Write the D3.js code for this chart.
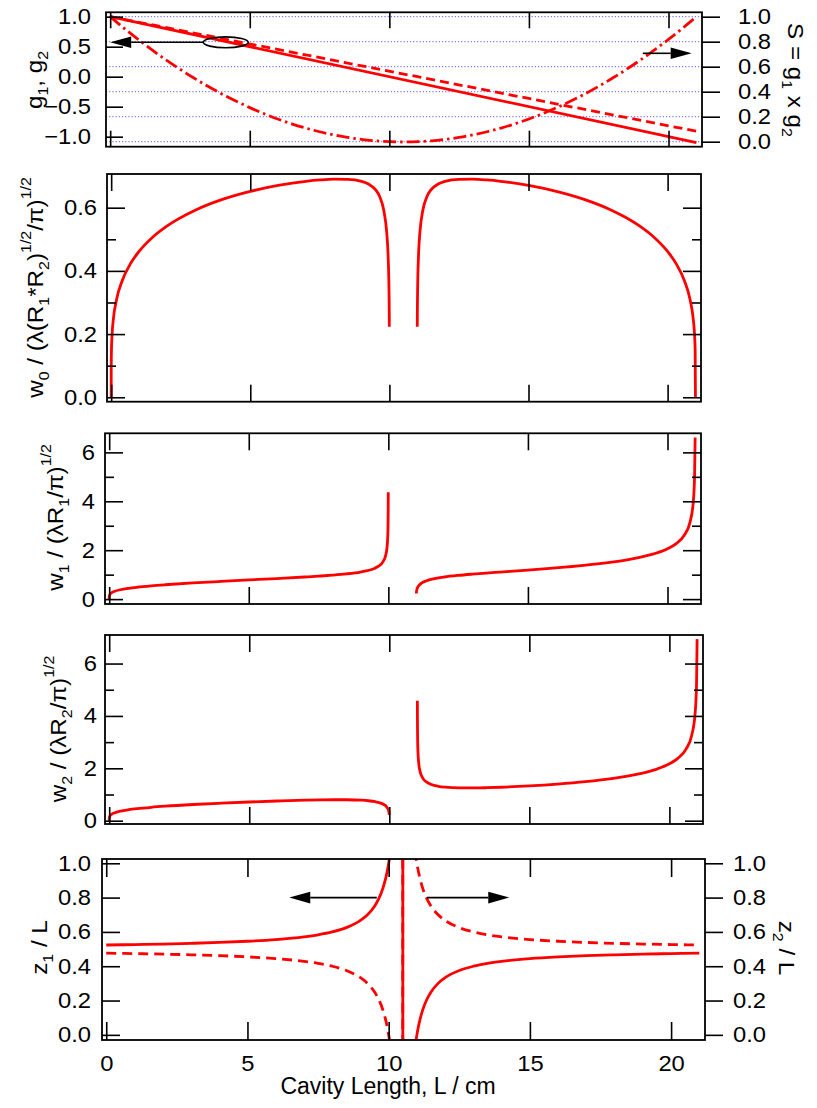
<!DOCTYPE html>
<html><head><meta charset="utf-8">
<script src="https://cdn.jsdelivr.net/npm/d3@7"></script>
<style>
body{margin:0;background:#fff}
svg{display:block}
text{font-family:"Liberation Sans",Arial,Helvetica,sans-serif;fill:#000;white-space:pre}
</style>
</head><body>
<svg id="c" width="817" height="1108"></svg>
<script>
// ---------------- data ----------------
const xTickValues = [0, 5, 10, 15, 20];

// panel 1 : g-parameters (left axis) and S = g1 x g2 (right axis)
const gLength = [0, 21];
const g1Values = [1, -1.1];
const g2Values = [1, -0.9091];
const sLength = [0,0.5,1,1.5,2,2.5,3,3.5,4,4.5,5,5.5,6,6.5,7,7.5,8,8.5,9,9.5,10,10.5,11,11.5,12,12.5,13,13.5,14,14.5,15,15.5,16,16.5,17,17.5,18,18.5,19,19.5,20,20.5,21];
const sValues = [1,0.9068,0.8182,0.7341,0.6545,0.5795,0.5091,0.4432,0.3818,0.3250,0.2727,0.2250,0.1818,0.1432,0.1091,0.0795,0.0545,0.0341,0.0182,0.0068,0,-0.0023,0,0.0068,0.0182,0.0341,0.0545,0.0795,0.1091,0.1432,0.1818,0.2250,0.2727,0.3250,0.3818,0.4432,0.5091,0.5795,0.6545,0.7341,0.8182,0.9068,1];

// spot sizes, first stable region
const lengthA = [0,0.0025,0.01,0.03,0.08,0.2,0.4,0.7,1,1.5,2,3,4,5,6,7,7.5,8,8.5,9,9.25,9.5,9.65,9.8,9.9,9.95,9.98,9.99,9.995,9.9975];
const w0A = [0,0.1045,0.1477,0.1943,0.2482,0.3116,0.3697,0.4237,0.4614,0.5074,0.5416,0.5912,0.6261,0.6516,0.6704,0.6835,0.6877,0.6902,0.6898,0.6835,0.6749,0.6569,0.6352,0.5912,0.5256,0.4564,0.3706,0.3139,0.2649,0.2232];
const w1A = [0,0.1070,0.1513,0.1992,0.2547,0.3209,0.3827,0.4421,0.4855,0.5415,0.5866,0.6606,0.7238,0.7825,0.8409,0.9036,0.9391,0.9802,1.0318,1.1067,1.1642,1.2547,1.3457,1.5137,1.7698,2.0853,2.6069,3.0940,3.6758,4.3690];
const w2A = [0,0.1020,0.1443,0.1899,0.2428,0.3056,0.3642,0.4201,0.4606,0.5122,0.5531,0.6180,0.6701,0.7144,0.7521,0.7825,0.7937,0.8003,0.7992,0.7825,0.7621,0.7244,0.6852,0.6180,0.5336,0.4551,0.3650,0.3079,0.2593,0.2182];

// spot sizes, second stable region
const lengthB = [11.0025,11.005,11.01,11.02,11.05,11.1,11.2,11.35,11.5,11.75,12,12.5,13,13.5,14,15,16,17,18,18.5,19,19.5,20,20.3,20.6,20.8,20.92,20.97,20.99,21];
const w0B = [0.2232,0.2649,0.3139,0.3706,0.4564,0.5256,0.5912,0.6352,0.6569,0.6749,0.6835,0.6898,0.6902,0.6877,0.6835,0.6704,0.6516,0.6261,0.5912,0.5688,0.5416,0.5074,0.4614,0.4237,0.3697,0.3116,0.2482,0.1943,0.1477,0];
const w1B = [0.2289,0.2721,0.3232,0.3836,0.4795,0.5650,0.6606,0.7431,0.7970,0.8590,0.9036,0.9692,1.0202,1.0648,1.1067,1.1892,1.2779,1.3815,1.5137,1.5985,1.7047,1.8468,2.0598,2.2621,2.6133,3.1168,3.9259,5.0205,6.6092,null];
const w2B = [4.5834,3.8571,3.2482,2.7394,2.1976,1.8740,1.6182,1.4594,1.3805,1.3121,1.2779,1.2512,1.2495,1.2600,1.2779,1.3296,1.3999,1.4922,1.6182,1.7018,1.8081,1.9524,2.1712,2.3806,2.7461,3.2720,4.1191,5.2662,6.9320,null];

// waist positions
const lengthZ = [0,1,2,3,4,5,6,7,7.5,8,8.5,9,9.25,9.5,9.65,9.8,9.9,9.95,9.98,10,10.2,10.4,10.49,10.51,10.6,10.8,11,11.02,11.05,11.1,11.2,11.35,11.5,11.75,12,12.5,13,13.5,14,15,16,17,18,19,20,21];
const z1Values = [0.5238,0.5263,0.5294,0.5333,0.5385,0.5455,0.5556,0.5714,0.5833,0.6,0.625,0.6667,0.7,0.75,0.7941,0.8571,0.9167,0.9545,0.9808,1.0,1.3333,3.0,25.5,-24.5,-2.0,-0.3333,0,0.0192,0.0455,0.0833,0.1429,0.2059,0.25,0.3,0.3333,0.375,0.4,0.4167,0.4286,0.4444,0.4545,0.4615,0.4667,0.4706,0.4737,0.4762];
const z2Values = [0.4762,0.4737,0.4706,0.4667,0.4615,0.4545,0.4444,0.4286,0.4167,0.4,0.375,0.3333,0.3,0.25,0.2059,0.1429,0.0833,0.0455,0.0192,0,-0.3333,-2.0,-24.5,25.5,3.0,1.3333,1.0,0.9808,0.9545,0.9167,0.8571,0.7941,0.75,0.7,0.6667,0.625,0.6,0.5833,0.5714,0.5556,0.5455,0.5385,0.5333,0.5294,0.5263,0.5238];

// tick labels
const gTicks = [-1, -0.5, 0, 0.5, 1];
const sTicks = [0, 0.2, 0.4, 0.6, 0.8, 1.0];
const w0Ticks = [0, 0.2, 0.4, 0.6];
const w0Minor = [0.1, 0.3, 0.5];
const wTicks = [0, 2, 4, 6];
const wMinor = [1, 3, 5];
const zTicks = [0, 0.2, 0.4, 0.6, 0.8, 1.0];

// ---------------- drawing ----------------
const svg = d3.select("#c");
const defs = svg.append("defs");
const FS = 22;      // tick label size
const SX = 1.08;    // horizontal widening of tick labels
const TFS = 22;     // axis title size
const TSX = 1.1;    // widening of axis titles along reading direction
const X_DOMAIN = [-0.15, 21.2];
const RED = "#ff0000";

const panels = {
  p1: {left:106, right:702, top:12.3, bottom:146.7, y:[-1.167,1.073], y2:[-0.04,1.035]},
  p2: {left:107, right:701, top:174, bottom:401.7, y:[-0.014,0.7066]},
  p3: {left:105, right:701, top:433.3, bottom:604, y:[-0.2,6.78]},
  p4: {left:105, right:703, top:635, bottom:824, y:[-0.126,7.09]},
  p5: {left:102, right:705, top:859, bottom:1040, y:[-0.03,1.025]}
};

Object.entries(panels).forEach(([id,p]) => {
  p.x = d3.scaleLinear().domain(X_DOMAIN).range([p.left, p.right]);
  p.ys = d3.scaleLinear().domain(p.y).range([p.bottom, p.top]);
  if (p.y2) p.ys2 = d3.scaleLinear().domain(p.y2).range([p.bottom, p.top]);
  p.clip = "clip-" + id;
  defs.append("clipPath").attr("id", p.clip).append("rect")
    .attr("x", p.left).attr("y", p.top).attr("width", p.right - p.left).attr("height", p.bottom - p.top);
  p.g = svg.append("g");
  p.plot = p.g.append("g").attr("clip-path", `url(#${p.clip})`);
});

function styleAxis(sel) {
  sel.attr("font-family", null).attr("font-size", FS);
  sel.select(".domain").remove();
  sel.selectAll(".tick line").attr("stroke", "#000").attr("stroke-width", 1.6);
  sel.selectAll(".tick text").attr("fill", "#000").each(function () {
    const t = d3.select(this);
    const x0 = +(this.getAttribute("x") || 0);
    t.attr("x", x0 / SX).attr("transform", `scale(${SX},1)`);
  });
}

function xTicks(p, len, labels, pad) {
  p.g.append("g").attr("transform", `translate(0,${p.bottom})`)
    .call(d3.axisBottom(p.x).tickValues(xTickValues).tickSizeInner(-len).tickSizeOuter(0)
      .tickPadding(pad || 0).tickFormat(labels ? d3.format("d") : ""))
    .call(styleAxis);
  p.g.append("g").attr("transform", `translate(0,${p.top})`)
    .call(d3.axisTop(p.x).tickValues(xTickValues).tickSizeInner(-len).tickSizeOuter(0).tickFormat(""))
    .call(styleAxis);
}

function leftTicks(p, scale, vals, len, pad, fmt, minor, mirror) {
  p.g.append("g").attr("transform", `translate(${p.left},0)`)
    .call(d3.axisLeft(scale).tickValues(vals).tickSizeInner(-len).tickSizeOuter(0).tickPadding(pad).tickFormat(fmt))
    .call(styleAxis);
  if (minor) p.g.append("g").attr("transform", `translate(${p.left},0)`)
    .call(d3.axisLeft(scale).tickValues(minor).tickSizeInner(-9).tickSizeOuter(0).tickFormat(""))
    .call(styleAxis);
  if (mirror) {
    p.g.append("g").attr("transform", `translate(${p.right},0)`)
      .call(d3.axisRight(scale).tickValues(vals).tickSizeInner(-len).tickSizeOuter(0).tickFormat(""))
      .call(styleAxis);
    if (minor) p.g.append("g").attr("transform", `translate(${p.right},0)`)
      .call(d3.axisRight(scale).tickValues(minor).tickSizeInner(-9).tickSizeOuter(0).tickFormat(""))
      .call(styleAxis);
  }
}

function rightTicksOut(p, scale, vals, len, pad, fmt) {
  p.g.append("g").attr("transform", `translate(${p.right},0)`)
    .call(d3.axisRight(scale).tickValues(vals).tickSizeInner(len).tickSizeOuter(0).tickPadding(pad).tickFormat(fmt))
    .call(styleAxis);
}

function frame(p) {
  p.g.append("rect").attr("x", p.left).attr("y", p.top)
    .attr("width", p.right - p.left).attr("height", p.bottom - p.top)
    .attr("fill", "none").attr("stroke", "#000").attr("stroke-width", 1.8);
}

function series(xs, ys) { return xs.map((v, i) => [v, ys[i]]); }

function drawLine(p, yScale, data, dash, width) {
  const line = d3.line().defined(d => d[1] !== null && d[1] !== undefined)
    .x(d => p.x(d[0])).y(d => yScale(d[1])).curve(d3.curveMonotoneX);
  p.plot.append("path").datum(data).attr("d", line)
    .attr("fill", "none").attr("stroke", RED).attr("stroke-width", width || 2.8)
    .attr("stroke-dasharray", dash || null).attr("stroke-linejoin", "round");
}

function title(x, y, rot, parts) {
  const fs = TFS;
  const t = svg.append("text").attr("transform", `translate(${x},${y}) rotate(${rot}) scale(${TSX},1)`)
    .attr("text-anchor", "middle").attr("font-size", fs);
  let cur = 0;
  parts.forEach(([str, kind]) => {
    const target = kind === "sub" ? 0.28 * fs : kind === "sup" ? -0.55 * fs : 0;
    const ts = t.append("tspan").text(str).attr("dy", target - cur);
    if (kind) ts.attr("font-size", fs * 0.66);
    cur = target;
  });
}

function arrow(p, yScale, from, to) {
  const x1 = p.x(from[0]), y1 = yScale(from[1]);
  const x2 = p.x(to[0]), y2 = yScale(to[1]);
  const ang = Math.atan2(y2 - y1, x2 - x1);
  const hl = 21, hw = 5.8;
  const bx = x2 - hl * Math.cos(ang), by = y2 - hl * Math.sin(ang);
  p.g.append("line").attr("x1", x1).attr("y1", y1).attr("x2", bx).attr("y2", by)
    .attr("stroke", "#000").attr("stroke-width", 1.6);
  p.g.append("path").attr("d", `M${x2},${y2}L${bx + hw * Math.sin(ang)},${by - hw * Math.cos(ang)}L${bx - hw * Math.sin(ang)},${by + hw * Math.cos(ang)}Z`)
    .attr("fill", "#000");
}

// ----- panel 1 -----
{
  const p = panels.p1;
  // blue dotted grid at the S ticks
  p.plot.selectAll("line.grid").data(sTicks).join("line").attr("class", "grid")
    .attr("x1", p.left).attr("x2", p.right).attr("y1", d => p.ys2(d)).attr("y2", d => p.ys2(d))
    .attr("stroke", "#5c5cff").attr("stroke-width", 1).attr("stroke-dasharray", "1.2,2");
  drawLine(p, p.ys2, series(sLength, sValues), "13,4,2.5,4");
  drawLine(p, p.ys, series(gLength, g2Values), "9,5");
  drawLine(p, p.ys, series(gLength, g1Values));
  frame(p);
  xTicks(p, 16);
  leftTicks(p, p.ys, gTicks, 17, 15, d3.format(".1f"));
  rightTicksOut(p, p.ys2, sTicks, 18, 18, d3.format(".1f"));
  // ellipse marking the g-curves + arrows
  p.g.append("ellipse").attr("cx", p.x(4.14)).attr("cy", p.ys(0.573))
    .attr("rx", 22.5).attr("ry", 5.4).attr("fill", "none").attr("stroke", "#000").attr("stroke-width", 1.6);
  arrow(p, p.ys, [3.33, 0.573], [0.0, 0.573]);
  arrow(p, p.ys2, [19.08, 0.707], [20.83, 0.707]);
  title(42, 80, -90, [["g"], ["1", "sub"], [", g"], ["2", "sub"]]);
  title(788, 80, 90, [["S = g"], ["1", "sub"], [" x g"], ["2", "sub"]]);
}

// ----- panel 2 -----
{
  const p = panels.p2;
  drawLine(p, p.ys, series(lengthA, w0A));
  drawLine(p, p.ys, series(lengthB, w0B));
  frame(p);
  xTicks(p, 17);
  leftTicks(p, p.ys, w0Ticks, 18, 10, d3.format(".1f"), w0Minor, true);
  title(43, 287.5, -90, [["w"], ["0", "sub"], [" / (λ(R"], ["1", "sub"], ["*R"], ["2", "sub"], [")"], ["1/2", "sup"], ["/π)"], ["1/2", "sup"]]);
}

// ----- panel 3 -----
{
  const p = panels.p3;
  drawLine(p, p.ys, series(lengthA, w1A));
  drawLine(p, p.ys, series(lengthB, w1B));
  frame(p);
  xTicks(p, 17);
  leftTicks(p, p.ys, wTicks, 18, 10, d3.format("d"), wMinor, true);
  title(63, 517.5, -90, [["w"], ["1", "sub"], [" / (λR"], ["1", "sub"], ["/π)"], ["1/2", "sup"]]);
}

// ----- panel 4 -----
{
  const p = panels.p4;
  drawLine(p, p.ys, series(lengthA, w2A));
  drawLine(p, p.ys, series(lengthB, w2B));
  frame(p);
  xTicks(p, 17);
  leftTicks(p, p.ys, wTicks, 18, 8, d3.format("d"), wMinor, true);
  title(66, 729, -90, [["w"], ["2", "sub"], [" / (λR"], ["2", "sub"], ["/π)"], ["1/2", "sup"]]);
}

// ----- panel 5 -----
{
  const p = panels.p5;
  drawLine(p, p.ys, series(lengthZ, z2Values), "10,6");
  drawLine(p, p.ys, series(lengthZ, z1Values));
  frame(p);
  xTicks(p, 18, true, 15);
  leftTicks(p, p.ys, zTicks, 18, 11, d3.format(".1f"));
  rightTicksOut(p, p.ys, zTicks, 18, 10, d3.format(".1f"));
  arrow(p, p.ys, [9.58, 0.80], [6.48, 0.80]);
  arrow(p, p.ys, [11.35, 0.80], [14.27, 0.80]);
  title(47, 947.5, -90, [["z"], ["1", "sub"], [" / L"]]);
  title(779, 948, 90, [["z"], ["2", "sub"], [" / L"]]);
  svg.append("text").attr("x", 388).attr("y", 1094).attr("text-anchor", "middle")
    .attr("font-size", 23).text("Cavity Length, L / cm");
}
</script>
</body></html>
